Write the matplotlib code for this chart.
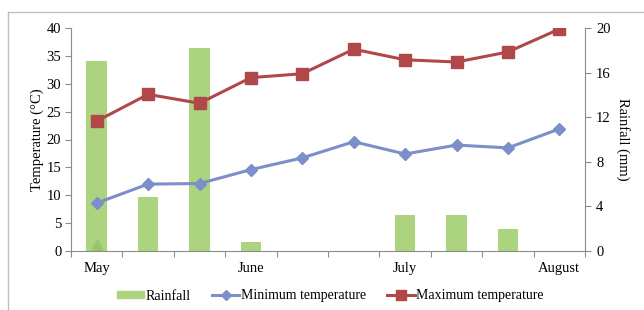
import numpy as np
import matplotlib
matplotlib.use('Agg')
import matplotlib.pyplot as plt
from matplotlib.lines import Line2D

plt.rcParams['font.family'] = ['Liberation Serif', 'DejaVu Serif']

# data
months = ['May', '', '', 'June', '', '', 'July', '', '', 'August']
rainfall = [17.0, 4.8, 18.2, 0.8, 0, 0, 3.2, 3.2, 2.0, 0]
min_temp = [8.6, 12.0, 12.1, 14.6, 16.7, 19.6, 17.4, 19.0, 18.5, 21.9]
max_temp = [23.3, 28.1, 26.5, 31.1, 31.8, 36.2, 34.3, 33.9, 35.7, 39.8]
extra_mark = [1.0]  # small green triangle at May

green = '#acd47e'
blue = '#7b8fc8'
red = '#b0484a'
grey = '#8c8c8c'

x = np.arange(len(months))

fig = plt.figure(figsize=(6.44, 3.10), dpi=100)
ax = fig.add_axes([71/644, 1-251/310, (585-71)/644, (251-28)/310])
ax2 = ax.twinx()

# rainfall bars on right axis, drawn behind
ax2.bar(x, rainfall, width=0.4, color=green, zorder=1)
ax2.set_ylim(0, 20)
ax2.set_yticks(np.arange(0, 21, 4))
ax.set_zorder(ax2.get_zorder() + 1)
ax.patch.set_visible(False)

ax.plot([0], extra_mark, marker='^', ms=9, color='#9bc36c', ls='none', zorder=2)
ax.plot(x, min_temp, color=blue, lw=2.2, marker='D', ms=6, zorder=3)
ax.plot(x, max_temp, color=red, lw=2.2, marker='s', ms=8.5, zorder=4)

ax.set_xlim(-0.5, 9.5)
ax.set_ylim(0, 40)
ax.set_yticks(np.arange(0, 41, 5))
ax.set_xticks(np.arange(-0.5, 10, 1))
ax.set_xticklabels([])
ax.set_xticks(x, minor=True)
ax.set_xticklabels(months, minor=True)
ax.tick_params(axis='x', which='minor', length=0, pad=8, labelsize=10.5)
ax.tick_params(axis='x', which='major', length=4, color=grey, direction='out')
ax.tick_params(axis='y', length=4, color=grey, labelsize=10.5, pad=3)
ax2.tick_params(axis='y', length=4, color=grey, labelsize=10.5, pad=4)

for a in (ax, ax2):
    for s in a.spines.values():
        s.set_color(grey)
    a.spines['top'].set_visible(False)
ax.spines['right'].set_visible(False)
ax2.spines['left'].set_visible(False)
ax2.spines['bottom'].set_visible(False)

ax.set_ylabel('Temperature (°C)', fontsize=10.5, labelpad=2)
ax2.set_ylabel('Rainfall (mm)', fontsize=10.5, rotation=-90, labelpad=14)

handles = [
    plt.Rectangle((0, 0), 1, 1, color=green),
    Line2D([], [], color=blue, lw=2.2, marker='D', ms=5),
    Line2D([], [], color=red, lw=2.2, marker='s', ms=7),
]
fig.legend(handles, ['Rainfall', 'Minimum temperature', 'Maximum temperature'],
           loc='center', bbox_to_anchor=(330/644, 1-296/310), ncol=3,
           frameon=False, fontsize=10, handlelength=2.0, handleheight=0.45,
           handletextpad=0.1, columnspacing=1.5)

# outer chart border (left and top visible)
fig.add_artist(Line2D([8/644, 8/644], [0, 1-12/310], color='#bfbfbf', lw=1,
                      transform=fig.transFigure))
fig.add_artist(Line2D([8/644, 1], [1-12/310, 1-12/310], color='#bfbfbf', lw=1,
                      transform=fig.transFigure))

fig.savefig('out.png', dpi=100)
